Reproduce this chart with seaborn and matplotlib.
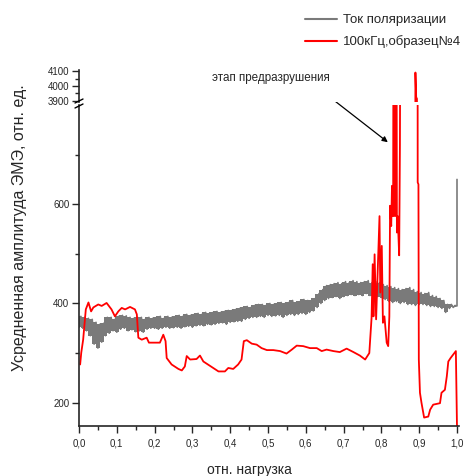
import matplotlib.pyplot as plt
import matplotlib.ticker as mticker
from matplotlib.lines import Line2D
import numpy as np
import pandas as pd
import seaborn as sns

sns.set_style("ticks")
plt.rcParams['font.family'] = ['Liberation Sans', 'DejaVu Sans']

# polarization current: noisy band, lower / upper edge every 0.01 of load
gray_load = np.round(np.arange(0, 1.0, 0.01), 2)
gray_low = [352, 350, 345, 335, 318, 310, 322, 335, 340, 345,
            342, 348, 350, 345, 347, 343, 345, 342, 348, 350,
            350, 348, 350, 352, 350, 351, 352, 350, 353, 354,
            352, 355, 356, 355, 358, 357, 358, 360, 361, 358,
            362, 363, 364, 364, 368, 370, 372, 372, 374, 372,
            376, 374, 375, 376, 372, 376, 378, 376, 378, 380,
            378, 382, 385, 392, 400, 406, 410, 412, 414, 410,
            414, 416, 418, 416, 418, 416, 420, 416, 418, 414,
            412, 408, 404, 402, 404, 400, 402, 398, 398, 396,
            398, 398, 396, 394, 394, 392, 390, 382, 390, 392]
gray_high = [374, 372, 370, 368, 362, 358, 360, 372, 372, 368,
             374, 376, 375, 372, 370, 372, 372, 368, 372, 370,
             372, 374, 370, 374, 372, 374, 376, 374, 378, 376,
             378, 380, 378, 382, 380, 382, 384, 382, 384, 386,
             386, 388, 390, 392, 394, 392, 396, 398, 398, 396,
             400, 398, 400, 402, 400, 402, 406, 402, 404, 408,
             406, 406, 410, 420, 428, 436, 438, 440, 442, 440,
             444, 442, 446, 444, 442, 444, 446, 442, 444, 442,
             438, 436, 434, 432, 430, 428, 430, 432, 428, 424,
             422, 420, 422, 416, 414, 410, 406, 398, 398, 396]
gray_tail_load = [0.995, 1.0, 1.0]
gray_tail_amp = [395, 395, 650]

# 100 kHz, sample 4
red_load = [0.003, 0.006, 0.011, 0.018, 0.025, 0.032, 0.038, 0.051, 0.060, 0.073,
            0.086, 0.095, 0.104, 0.113, 0.122, 0.135, 0.148, 0.153, 0.157, 0.166,
            0.179, 0.185, 0.201, 0.214, 0.223, 0.229, 0.232, 0.245, 0.263, 0.272,
            0.280, 0.285, 0.294, 0.311, 0.320, 0.329, 0.351, 0.369, 0.386, 0.395,
            0.408, 0.421, 0.430, 0.436, 0.444, 0.457, 0.470, 0.483, 0.497, 0.514,
            0.532, 0.549, 0.563, 0.576, 0.593, 0.611, 0.629, 0.642, 0.655, 0.673,
            0.690, 0.708, 0.726, 0.743, 0.757, 0.768, 0.774, 0.777, 0.779, 0.782,
            0.786, 0.795, 0.797, 0.801, 0.804, 0.808, 0.814, 0.818, 0.821, 0.823,
            0.826, 0.828, 0.831, 0.833, 0.836, 0.839, 0.841, 0.843, 0.845, 0.847,
            0.849, 0.852, 0.888, 0.890, 0.892, 0.894, 0.896, 0.898, 0.899, 0.902,
            0.906, 0.913, 0.924, 0.929, 0.937, 0.955, 0.959, 0.968, 0.973, 0.977,
            0.983, 0.990, 0.997, 1.000]
red_amp = [277, 301, 327, 388, 402, 384, 392, 398, 395, 401,
           388, 374, 384, 391, 388, 393, 388, 378, 331, 327,
           331, 321, 321, 321, 337, 324, 290, 277, 268, 265,
           273, 294, 287, 288, 295, 283, 272, 263, 263, 270,
           268, 277, 287, 324, 326, 319, 317, 310, 306, 306,
           304, 299, 307, 315, 314, 310, 310, 304, 307, 304,
           302, 309, 302, 295, 287, 300, 371, 479, 374, 499,
           368, 576, 422, 516, 361, 374, 321, 314, 374, 597,
           556, 637, 576, 1500, 576, 1500, 543, 576, 538, 497,
           718, 1500, 1500, 4090, 3925, 3915, 644, 640, 287, 220,
           200, 170, 172, 186, 196, 199, 220, 226, 253, 283,
           290, 297, 304, 150]

x_ticks = [0.0, 0.1, 0.2, 0.3, 0.4, 0.5, 0.6, 0.7, 0.8, 0.9, 1.0]
x_labels = ['0,0', '0,1', '0,2', '0,3', '0,4', '0,5', '0,6', '0,7', '0,8', '0,9', '1,0']

zig_load = np.column_stack([gray_load, gray_load + 0.005]).ravel()
zig_amp = np.column_stack([gray_low, gray_high]).ravel()
df_gray = pd.DataFrame({'load': np.concatenate([zig_load, gray_tail_load]),
                        'amp': np.concatenate([zig_amp, gray_tail_amp])})
df_red = pd.DataFrame({'load': red_load, 'amp': red_amp})

W, H = 467, 476
fig = plt.figure(figsize=(W / 100, H / 100), dpi=100)
xmax = 1.004
left = 79 / W
width = (457 - 79) * xmax / W
ax = fig.add_axes([left, 1 - 426 / H, width, (426 - 105) / H])
ax_top = fig.add_axes([left, 1 - 102 / H, width, (102 - 70) / H])

gray = '#7a7a7a'
for a in (ax, ax_top):
    a.fill_between(gray_load, gray_low, gray_high, step='mid', color=gray, lw=0)
    sns.lineplot(data=df_gray, x='load', y='amp', color=gray, lw=1.2,
                 estimator=None, sort=False, ax=a)
    sns.lineplot(data=df_red, x='load', y='amp', color='#ff0000', lw=1.3,
                 estimator=None, sort=False, ax=a)
    a.set_xlim(0, xmax)
    a.set_xlabel('')
    a.set_ylabel('')
    for s in ('top', 'right'):
        a.spines[s].set_visible(False)
    a.spines['left'].set_linewidth(1.2)
    a.tick_params(which='major', length=5, width=1, labelsize=7, pad=2)
    a.tick_params(which='minor', length=3, width=1)

ax.set_ylim(153, 800)
ax.set_yticks([200, 400, 600])
ax.yaxis.set_minor_locator(mticker.FixedLocator([300, 500, 700]))
ax.set_xticks(x_ticks)
ax.set_xticklabels(x_labels)
ax.xaxis.set_minor_locator(mticker.MultipleLocator(0.05))
ax.tick_params(axis='x', which='major', pad=4)
ax.spines['bottom'].set_linewidth(1.2)

ax_top.set_ylim(3893, 4107)
ax_top.set_yticks([3900, 4000, 4100])
ax_top.yaxis.set_minor_locator(mticker.FixedLocator([3950, 4050]))
ax_top.spines['bottom'].set_visible(False)
ax_top.tick_params(axis='x', which='both', bottom=False, labelbottom=False)

# break marks on the left spine
for yb in (101, 106):
    fig.add_artist(Line2D([75 / W, 83 / W], [1 - (yb + 2) / H, 1 - (yb - 2) / H],
                          color='black', lw=1))

fig.text(249 / W, 1 - 470 / H, 'отн. нагрузка', fontsize=10, ha='center', va='center')
fig.text(20 / W, 1 - 228 / H, 'Усредненная амплитуда ЭМЭ, отн. ед.', rotation=90,
         fontsize=11.5, ha='center', va='center')

fig.text(212 / W, 1 - 78 / H, 'этап предразрушения', fontsize=8.4, ha='left', va='center')
ax.annotate('', xy=(0.817, 725), xycoords='data',
            xytext=(322, H - 91), textcoords='figure pixels',
            arrowprops=dict(arrowstyle='-|>', color='black', lw=0.9,
                            mutation_scale=8, shrinkA=0, shrinkB=0))

handles = [Line2D([], [], color=gray, lw=1.5), Line2D([], [], color='#ff0000', lw=1.5)]
fig.legend(handles, ['Ток поляризации', '100кГц,образец№4'], loc='upper left',
           bbox_to_anchor=(305 / W, 1 - 14 / H), frameon=False, fontsize=9.5,
           handlelength=2.4, handletextpad=0.5, labelspacing=0.7,
           borderpad=0, borderaxespad=0)

fig.savefig('out.png', dpi=100)
